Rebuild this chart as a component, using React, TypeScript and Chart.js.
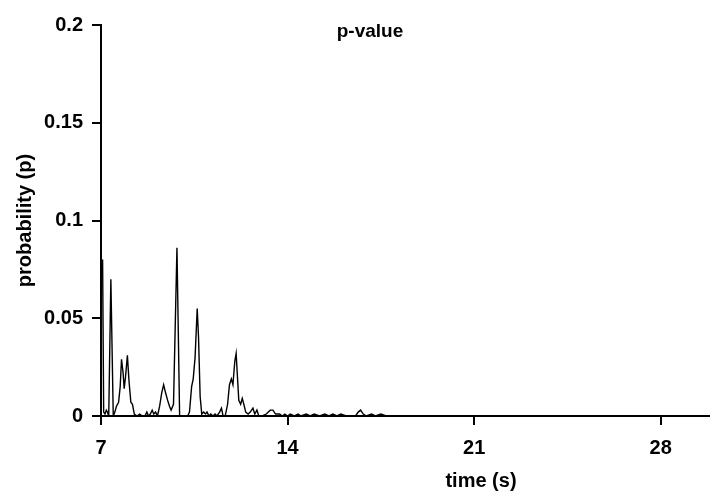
import React, { useEffect, useRef } from "react";
import { Chart, registerables } from "chart.js";
Chart.register(...registerables);

const timeS = [
  7.06, 7.1, 7.15, 7.2, 7.24, 7.29, 7.37, 7.46, 7.52, 7.58, 7.66, 7.72, 7.77, 7.83, 7.87, 7.92, 7.99,
  8.05, 8.12, 8.18, 8.25, 8.35, 8.45, 8.55, 8.65, 8.72, 8.78, 8.85, 8.92, 8.98, 9.05, 9.12, 9.2,
  9.28, 9.35, 9.42, 9.5, 9.57, 9.63, 9.72, 9.85, 9.95, 10.05, 10.15, 10.25, 10.32, 10.4, 10.46,
  10.53, 10.61, 10.66, 10.72, 10.78, 10.85, 10.92, 10.98, 11.05, 11.12, 11.2, 11.28, 11.35, 11.45,
  11.52, 11.58, 11.66, 11.75, 11.82, 11.89, 11.95, 12.02, 12.07, 12.12, 12.17, 12.24, 12.3, 12.36,
  12.43, 12.52, 12.6, 12.7, 12.77, 12.85, 12.92, 13.05, 13.2, 13.35, 13.45, 13.55, 13.7, 13.8,
  13.9, 14.0, 14.1, 14.25, 14.4, 14.5, 14.7, 14.85, 15.0, 15.2, 15.4, 15.55, 15.7, 15.85, 16.0,
  16.2, 16.4, 16.55, 16.65, 16.74, 16.84, 16.95, 17.15, 17.3, 17.5, 17.7, 17.9,
];
const pValue = [
  0.08, 0.002, 0.001, 0.003, 0.002, 0.0, 0.07, 0.0, 0.002, 0.005, 0.007, 0.015, 0.029, 0.022, 0.014, 0.02, 0.031,
  0.018, 0.007, 0.006, 0.001, 0.0, 0.001, 0.0, 0.0, 0.002, 0.0, 0.001, 0.003, 0.001, 0.002, 0.0, 0.005,
  0.012, 0.016, 0.012, 0.008, 0.005, 0.003, 0.006, 0.086, 0.0, 0.0, 0.0, 0.0, 0.002, 0.015, 0.019,
  0.03, 0.055, 0.04, 0.01, 0.001, 0.002, 0.001, 0.002, 0.0, 0.001, 0.0, 0.001, 0.0, 0.002,
  0.004, 0.0, 0.0, 0.006, 0.016, 0.019, 0.016, 0.028, 0.032, 0.02, 0.008, 0.006, 0.009, 0.006,
  0.002, 0.001, 0.002, 0.004, 0.001, 0.003, 0.0, 0.0, 0.001, 0.003, 0.003, 0.001, 0.001, 0.0,
  0.001, 0.0, 0.001, 0.0, 0.001, 0.0, 0.001, 0.0, 0.001, 0.0, 0.001, 0.0, 0.001, 0.0, 0.001,
  0.0, 0.0, 0.0, 0.002, 0.003, 0.001, 0.0, 0.001, 0.0, 0.001, 0.0, 0.0,
];

const xTicks = [7, 14, 21, 28];
const yTicks = [0, 0.05, 0.1, 0.15, 0.2];
const yTickLabels = ["0", "0.05", "0.1", "0.15", "0.2"];
const chartTitle = "p-value";
const xTitle = "time (s)";
const yTitle = "probability (p)";

const FONT = '"Liberation Sans", Arial, sans-serif';

const textPlugin = {
  id: "extraTexts",
  afterDraw(chart: any) {
    const { ctx, chartArea } = chart;
    ctx.save();
    ctx.fillStyle = "#000";
    ctx.textAlign = "center";
    ctx.textBaseline = "middle";
    ctx.font = `bold 19px ${FONT}`;
    ctx.fillText(chartTitle, chartArea.left + 269, chartArea.top + 7);
    ctx.font = `bold 20px ${FONT}`;
    ctx.fillText(xTitle, chartArea.left + 380, chartArea.bottom + 65);
    ctx.restore();
  },
};

export default function App() {
  const ref = useRef<HTMLCanvasElement>(null);
  useEffect(() => {
    if (!ref.current) return;
    const data = timeS.map((t, i) => ({ x: t, y: pValue[i] }));
    const tickFont = { family: FONT, size: 20, weight: "bold" as const };
    const chart = new Chart(ref.current, {
      type: "line",
      data: {
        datasets: [
          {
            label: chartTitle,
            data,
            borderColor: "#000",
            borderWidth: 1.4,
            pointRadius: 0,
            tension: 0,
            fill: false,
          },
        ],
      },
      plugins: [textPlugin],
      options: {
        animation: false,
        responsive: false,
        maintainAspectRatio: false,
        layout: { padding: { top: 25, right: 0, left: 0, bottom: 0 } },
        plugins: {
          legend: { display: false },
          tooltip: { enabled: false },
          title: { display: false },
        },
        scales: {
          x: {
            type: "linear",
            min: 7,
            max: 29.85,
            afterBuildTicks: (s: any) => {
              s.ticks = xTicks.map((v) => ({ value: v }));
            },
            afterFit: (s: any) => {
              s.height = 77;
            },
            ticks: { color: "#000", font: tickFont, padding: 11, maxRotation: 0 },
            grid: { drawOnChartArea: false, drawTicks: true, tickLength: 9, color: "#000", lineWidth: 2 },
            border: { display: true, color: "#000", width: 2 },
          },
          y: {
            min: 0,
            max: 0.2,
            afterBuildTicks: (s: any) => {
              s.ticks = yTicks.map((v) => ({ value: v }));
            },
            afterFit: (s: any) => {
              s.width = 101;
            },
            ticks: {
              color: "#000",
              font: tickFont,
              padding: 9,
              callback: (v: any) => {
                const i = yTicks.findIndex((t) => Math.abs(t - Number(v)) < 1e-9);
                return i >= 0 ? yTickLabels[i] : "";
              },
            },
            title: {
              display: true,
              text: yTitle,
              color: "#000",
              font: { family: FONT, size: 20, weight: "bold" },
              padding: { top: 13, bottom: 0 },
            },
            grid: { drawOnChartArea: false, drawTicks: true, tickLength: 9, color: "#000", lineWidth: 2 },
            border: { display: true, color: "#000", width: 2 },
          },
        },
      },
    });
    return () => chart.destroy();
  }, []);
  return (
    <div style={{ position: "fixed", left: 0, top: 0, width: 710, height: 493, background: "#fff" }}>
      <canvas ref={ref} width={710} height={493} style={{ display: "block" }} />
    </div>
  );
}
